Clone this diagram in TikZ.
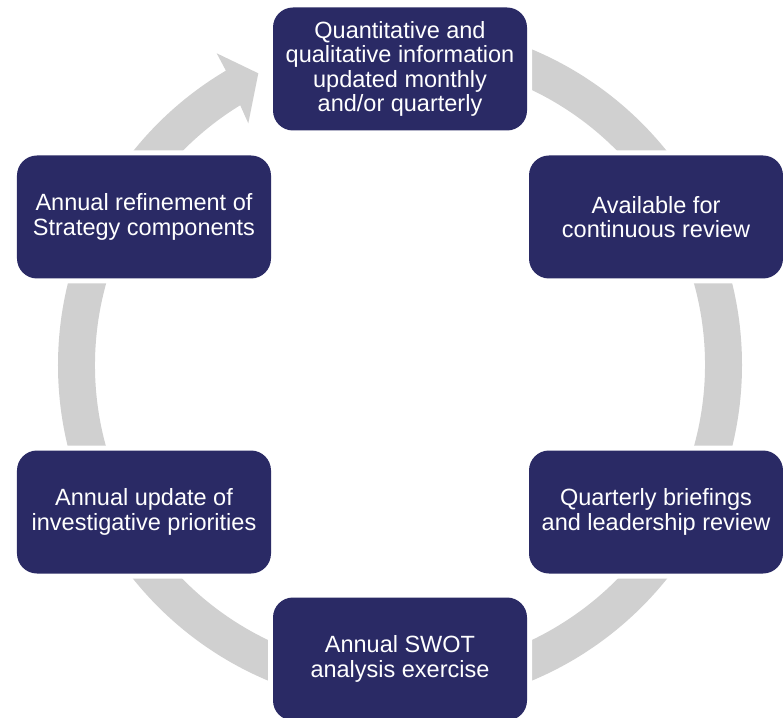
\documentclass[tikz,border=0pt]{standalone}
\usepackage{fontspec}
\setmainfont{Liberation Sans}
\definecolor{boxblue}{RGB}{42,42,101}
\definecolor{ringgray}{RGB}{208,208,208}

\begin{document}
\begin{tikzpicture}[x=1pt, y=1pt,
                    box node/.style={rectangle, rounded corners=20pt, fill=boxblue, text=white,
                      minimum width=254pt, minimum height=123pt, align=center, inner sep=0pt,
                      font=\fontsize{23.5}{24.5}\selectfont,
                      preaction={draw=white, line width=10pt}}]

  \useasboundingbox (-400,-352) rectangle (383,365);

  % grey ring, arrow head at top left
  \fill[ringgray] (90:342) arc[start angle=90, end angle=-239.4, radius=342]
    -- (-183.3,311.7) -- (-141.7,291.7) -- (-151.7,241.7)
    -- (-238.4:305) arc[start angle=-238.4, end angle=90, radius=305] -- cycle;

  \node[box node] (1) at (0,296) {Quantitative and\\qualitative information\\updated monthly\\and/or quarterly};
  \node[box node] (2) at (256,148) {Available for\\continuous review};
  \node[box node] (3) at (256,-147) {Quarterly briefings\\and leadership review};
  \node[box node] (4) at (0,-294) {Annual SWOT\\analysis exercise};
  \node[box node] (5) at (-256,-147) {Annual update of\\investigative priorities};
  \node[box node] (6) at (-256,148) {Annual refinement of\\Strategy components};

\end{tikzpicture}
\end{document}
